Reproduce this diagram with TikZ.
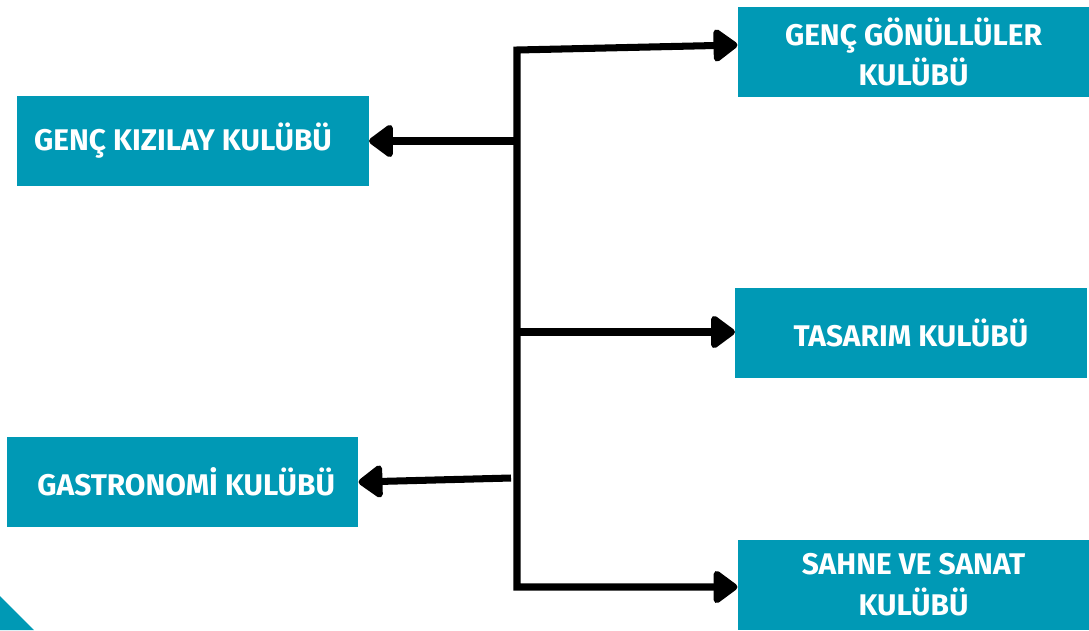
\documentclass[tikz,border=0pt]{standalone}
\usepackage{fontspec}
\setmainfont{Fira Sans}
\usetikzlibrary{arrows.meta}
\definecolor{clubteal}{RGB}{0,153,181}
\tikzset{
	club/.style={
		rectangle, fill=clubteal, text=white, inner sep=0pt,
		minimum width=7.03cm, minimum height=1.8cm, align=center,
		font=\fontsize{17}{23}\selectfont\bfseries
	},
	tip/.tip={Triangle[round, length=15pt, width=21pt]},
	link/.style={line width=4pt, -tip}
}
\begin{document}
\begin{tikzpicture}[x=0.02cm, y=-0.02cm]
		\useasboundingbox (0,0) rectangle (1089,630);
		\fill[clubteal] (0,596) -- (34,630) -- (0,630) -- cycle;

		\node[club] (gonullu) at (913.5,52) {GENÇ GÖNÜLLÜLER\\KULÜBÜ};
		\node[club] (kizilay) at (193,141) {GENÇ KIZILAY KULÜBÜ\hspace{0.4cm}};
		\node[club] (tasarim) at (911,333) {TASARIM KULÜBÜ};
		\node[club] (gastro) at (182.5,482) {\hspace{0.15cm}GASTRONOMİ KULÜBÜ};
		\node[club] (sahne) at (913.5,584.5) {SAHNE VE SANAT\\KULÜBÜ};

		\coordinate (trunkTop) at (517,50);
		\coordinate (trunkBot) at (517,587);
		\coordinate (kizilayOut) at (517,141);
		\coordinate (tasarimOut) at (517,332);
		\coordinate (gastroOut) at (511,478);

		\draw[link, tip-tip]
			([yshift=0.14cm]gonullu.west) -- (trunkTop) -- (trunkBot) -- (sahne.west |- trunkBot);
		\draw[link] (kizilayOut) -- (kizilay.east);
		\draw[link] (tasarimOut) -- (tasarim.west |- tasarimOut);
		\draw[link] (gastroOut) -- (gastro.east);
	\end{tikzpicture}
\end{document}
